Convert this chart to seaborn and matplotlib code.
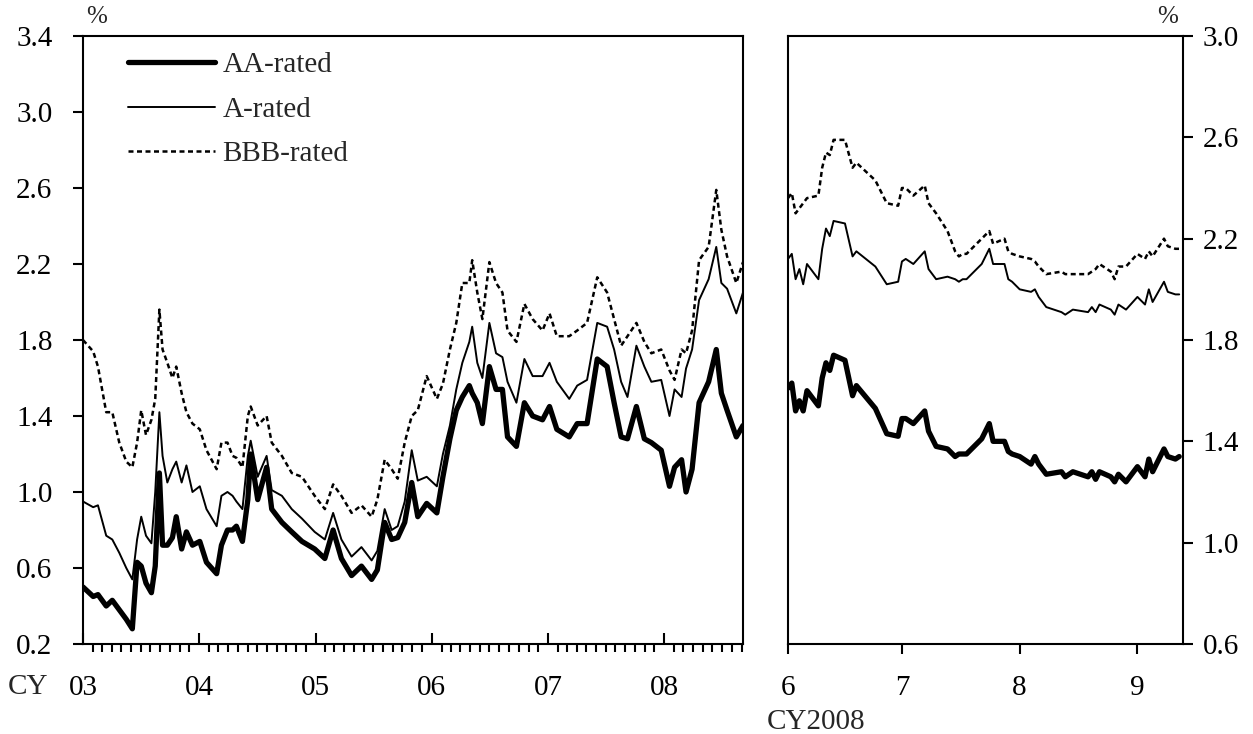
import matplotlib
matplotlib.use("Agg")
import pandas as pd
import matplotlib.pyplot as plt
import matplotlib.dates as mdates
from matplotlib.ticker import FuncFormatter
import seaborn as sns

# Left panel: CY2003 - CY2008 (roughly twice a month)
left_dates = [
    "2003-01-01", "2003-02-02", "2003-02-17", "2003-03-15", "2003-04-03", "2003-04-25",
    "2003-05-17", "2003-06-05", "2003-06-20", "2003-07-03", "2003-07-18", "2003-08-04",
    "2003-08-16", "2003-08-29", "2003-09-08", "2003-09-23", "2003-10-09", "2003-10-21",
    "2003-11-07", "2003-11-22", "2003-12-11", "2004-01-03", "2004-01-24", "2004-02-25",
    "2004-03-11", "2004-03-30", "2004-04-15", "2004-04-27", "2004-05-16", "2004-06-02",
    "2004-06-11", "2004-07-03", "2004-07-31", "2004-08-16", "2004-09-17", "2004-10-18",
    "2004-11-19", "2004-12-29", "2005-01-30", "2005-02-25", "2005-03-23", "2005-04-24",
    "2005-05-25", "2005-06-26", "2005-07-14", "2005-08-06", "2005-08-28", "2005-09-16",
    "2005-10-08", "2005-10-30", "2005-11-18", "2005-12-16", "2006-01-17", "2006-02-05",
    "2006-02-27", "2006-03-19", "2006-04-07", "2006-04-29", "2006-05-08", "2006-05-24",
    "2006-06-09", "2006-07-01", "2006-07-22", "2006-08-11", "2006-08-27", "2006-09-24",
    "2006-10-19", "2006-11-14", "2006-12-15", "2007-01-06", "2007-01-29", "2007-03-09",
    "2007-04-03", "2007-05-04", "2007-06-05", "2007-07-06", "2007-07-28", "2007-08-19",
    "2007-09-08", "2007-10-06", "2007-10-31", "2007-11-22", "2007-12-23", "2008-01-18",
    "2008-02-03", "2008-02-25", "2008-03-10", "2008-03-29", "2008-04-20", "2008-05-20",
    "2008-06-13", "2008-06-29", "2008-07-17", "2008-08-15", "2008-09-05",
]
left_aa = [
    0.50, 0.45, 0.46, 0.40, 0.43, 0.38, 0.33, 0.28, 0.63, 0.61, 0.52, 0.47,
    0.61, 1.10, 0.72, 0.72, 0.76, 0.87, 0.70, 0.79, 0.72, 0.74, 0.63, 0.57,
    0.72, 0.80, 0.80, 0.82, 0.74, 0.96, 1.20, 0.96, 1.13, 0.91, 0.84, 0.79,
    0.74, 0.70, 0.65, 0.80, 0.65, 0.56, 0.61, 0.54, 0.59, 0.84, 0.75, 0.76,
    0.84, 1.05, 0.87, 0.94, 0.89, 1.08, 1.28, 1.43, 1.50, 1.56, 1.52, 1.47,
    1.36, 1.66, 1.54, 1.54, 1.29, 1.24, 1.47, 1.40, 1.38, 1.45, 1.33, 1.29,
    1.36, 1.36, 1.70, 1.66, 1.47, 1.29, 1.28, 1.45, 1.28, 1.26, 1.22, 1.03,
    1.13, 1.17, 1.00, 1.12, 1.47, 1.58, 1.75, 1.52, 1.43, 1.29, 1.35,
]
left_a = [
    0.95, 0.92, 0.93, 0.77, 0.75, 0.68, 0.60, 0.54, 0.75, 0.87, 0.77, 0.73,
    1.00, 1.42, 1.19, 1.05, 1.12, 1.16, 1.05, 1.14, 1.00, 1.03, 0.91, 0.82,
    0.98, 1.00, 0.98, 0.95, 0.91, 1.19, 1.27, 1.08, 1.19, 1.01, 0.98, 0.91,
    0.86, 0.79, 0.75, 0.89, 0.75, 0.66, 0.71, 0.64, 0.69, 0.91, 0.80, 0.82,
    0.95, 1.22, 1.06, 1.08, 1.03, 1.20, 1.35, 1.54, 1.68, 1.79, 1.87, 1.68,
    1.60, 1.89, 1.73, 1.71, 1.58, 1.47, 1.70, 1.61, 1.61, 1.68, 1.58, 1.49,
    1.56, 1.59, 1.89, 1.87, 1.75, 1.58, 1.50, 1.77, 1.66, 1.58, 1.59, 1.40,
    1.54, 1.50, 1.65, 1.75, 2.01, 2.12, 2.29, 2.10, 2.07, 1.94, 2.05,
]
left_bbb = [
    1.80, 1.74, 1.66, 1.42, 1.42, 1.26, 1.16, 1.13, 1.26, 1.43, 1.30, 1.38,
    1.49, 1.96, 1.75, 1.68, 1.60, 1.66, 1.52, 1.42, 1.36, 1.33, 1.22, 1.12,
    1.26, 1.26, 1.19, 1.18, 1.13, 1.40, 1.45, 1.35, 1.40, 1.26, 1.19, 1.10,
    1.08, 0.98, 0.91, 1.04, 0.98, 0.89, 0.93, 0.87, 0.96, 1.17, 1.12, 1.07,
    1.26, 1.40, 1.43, 1.61, 1.49, 1.57, 1.75, 1.89, 2.10, 2.10, 2.22, 2.05,
    1.91, 2.21, 2.10, 2.05, 1.85, 1.79, 1.99, 1.91, 1.85, 1.94, 1.82, 1.82,
    1.85, 1.89, 2.13, 2.05, 1.91, 1.77, 1.82, 1.89, 1.79, 1.73, 1.75, 1.64,
    1.59, 1.75, 1.73, 1.85, 2.22, 2.29, 2.59, 2.38, 2.24, 2.10, 2.21,
]

# Right panel: June - mid September 2008
right_dates = [
    "2008-06-01", "2008-06-02", "2008-06-03", "2008-06-04", "2008-06-05", "2008-06-06",
    "2008-06-09", "2008-06-10", "2008-06-11", "2008-06-12", "2008-06-13", "2008-06-16",
    "2008-06-18", "2008-06-19", "2008-06-24", "2008-06-27", "2008-06-30", "2008-07-01",
    "2008-07-02", "2008-07-04", "2008-07-07", "2008-07-08", "2008-07-10", "2008-07-13",
    "2008-07-15", "2008-07-16", "2008-07-17", "2008-07-18", "2008-07-22", "2008-07-24",
    "2008-07-25", "2008-07-28", "2008-07-29", "2008-07-30", "2008-08-01", "2008-08-04",
    "2008-08-05", "2008-08-06", "2008-08-08", "2008-08-12", "2008-08-13", "2008-08-15",
    "2008-08-19", "2008-08-20", "2008-08-21", "2008-08-22", "2008-08-25", "2008-08-26",
    "2008-08-27", "2008-08-29", "2008-09-01", "2008-09-03", "2008-09-04", "2008-09-05",
    "2008-09-08", "2008-09-09", "2008-09-11", "2008-09-12",
]
right_aa = [
    1.61, 1.63, 1.52, 1.56, 1.52, 1.60, 1.54, 1.65, 1.71, 1.68, 1.74, 1.72,
    1.58, 1.62, 1.53, 1.43, 1.42, 1.49, 1.49, 1.47, 1.52, 1.44, 1.38, 1.37,
    1.34, 1.35, 1.35, 1.35, 1.41, 1.47, 1.40, 1.40, 1.36, 1.35, 1.34, 1.31,
    1.34, 1.31, 1.27, 1.28, 1.26, 1.28, 1.26, 1.28, 1.25, 1.28, 1.26, 1.24,
    1.27, 1.24, 1.30, 1.26, 1.33, 1.28, 1.37, 1.34, 1.33, 1.34,
]
right_a = [
    2.12, 2.14, 2.04, 2.08, 2.02, 2.10, 2.04, 2.16, 2.24, 2.21, 2.27, 2.26,
    2.13, 2.15, 2.09, 2.02, 2.03, 2.11, 2.12, 2.10, 2.15, 2.08, 2.04, 2.05,
    2.04, 2.03, 2.04, 2.04, 2.10, 2.16, 2.10, 2.10, 2.04, 2.03, 2.00, 1.99,
    2.00, 1.97, 1.93, 1.91, 1.90, 1.92, 1.91, 1.93, 1.91, 1.94, 1.92, 1.90,
    1.94, 1.92, 1.97, 1.94, 2.00, 1.95, 2.03, 1.99, 1.98, 1.98,
]
right_bbb = [
    2.36, 2.38, 2.30, 2.32, 2.34, 2.36, 2.37, 2.48, 2.54, 2.53, 2.59, 2.59,
    2.48, 2.50, 2.43, 2.34, 2.33, 2.40, 2.40, 2.37, 2.41, 2.34, 2.30, 2.23,
    2.15, 2.13, 2.14, 2.14, 2.20, 2.23, 2.18, 2.20, 2.15, 2.14, 2.13, 2.12,
    2.11, 2.09, 2.06, 2.07, 2.06, 2.06, 2.06, 2.07, 2.08, 2.10, 2.07, 2.04,
    2.09, 2.09, 2.14, 2.12, 2.15, 2.13, 2.20, 2.17, 2.16, 2.16,
]

labels = ["AA-rated", "A-rated", "BBB-rated"]
left_ticks = [0.2, 0.6, 1.0, 1.4, 1.8, 2.2, 2.6, 3.0, 3.4]
right_ticks = [0.6, 1.0, 1.4, 1.8, 2.2, 2.6, 3.0]

sns.set_style("ticks")
plt.rcParams["font.family"] = ["Liberation Serif", "DejaVu Serif"]
plt.rcParams["font.size"] = 21
plt.rcParams["axes.edgecolor"] = "black"
plt.rcParams["xtick.color"] = "black"
plt.rcParams["ytick.color"] = "black"

W, H = 1253, 734
fig = plt.figure(figsize=(W / 100, H / 100), dpi=100)
ax1 = fig.add_axes([83 / W, 1 - 644 / H, 660 / W, 608 / H])
ax2 = fig.add_axes([788 / W, 1 - 644 / H, 395 / W, 608 / H])

styles = [
    dict(linewidth=3.8, linestyle="-"),
    dict(linewidth=1.4, linestyle="-"),
    dict(linewidth=1.8, linestyle=(0, (2, 1.4))),
]

ld = pd.to_datetime(left_dates)
rd = pd.to_datetime(right_dates)
for vals, lab, st in zip([left_aa, left_a, left_bbb], labels, styles):
    sns.lineplot(x=ld, y=vals, ax=ax1, color="black", label=lab, **st)
for vals, st in zip([right_aa, right_a, right_bbb], styles):
    sns.lineplot(x=rd, y=vals, ax=ax2, color="black", legend=False, **st)

for ax in (ax1, ax2):
    for sp in ax.spines.values():
        sp.set_visible(True)
        sp.set_linewidth(1.5)
        sp.set_color("black")
    ax.set_xlabel("")
    ax.set_ylabel("")

# left axes
ax1.set_ylim(0.2, 3.4)
ax1.set_yticks(left_ticks)
ax1.set_yticklabels([f"{v:.1f}" for v in left_ticks])
ax1.set_xlim(pd.Timestamp("2003-01-01"), pd.Timestamp("2008-09-05"))
ax1.xaxis.set_major_locator(mdates.YearLocator())
ax1.xaxis.set_major_formatter(mdates.DateFormatter("%y"))
ax1.xaxis.set_minor_locator(mdates.MonthLocator())
ax1.tick_params(axis="x", which="major", direction="in", length=8, width=1.5, pad=22)
ax1.tick_params(axis="x", which="minor", direction="out", length=5.5, width=1.5)
ax1.tick_params(axis="y", direction="out", length=7, width=1.5, pad=15)

leg = ax1.legend(loc="upper left", bbox_to_anchor=(0.068, 0.974), frameon=False,
                 borderaxespad=0, borderpad=0, handlelength=3.0,
                 handletextpad=0.25, labelspacing=0.62, fontsize=21)

# right axes
ax2.set_ylim(0.6, 3.0)
ax2.set_yticks(right_ticks)
ax2.set_yticklabels([f"{v:.1f}" for v in right_ticks])
ax2.yaxis.tick_right()
ax2.set_xlim(pd.Timestamp("2008-06-01"), pd.Timestamp("2008-09-13"))
ax2.xaxis.set_major_locator(mdates.MonthLocator())
ax2.xaxis.set_major_formatter(FuncFormatter(lambda v, p: str(mdates.num2date(v).month)))
ax2.tick_params(axis="x", direction="out", length=7, width=1.5, pad=15)
ax2.tick_params(axis="y", direction="out", length=7, width=1.5, pad=7)

fig.text(28 / W, 1 - 687 / H, "CY", ha="center", va="center", fontsize=21)
fig.text(816 / W, 1 - 722 / H, "CY2008", ha="center", va="center", fontsize=21)
fig.text(97 / W, 1 - 17 / H, "%", ha="center", va="center", fontsize=18)
fig.text(1168 / W, 1 - 17 / H, "%", ha="center", va="center", fontsize=18)

fig.savefig("out.png", dpi=100)
